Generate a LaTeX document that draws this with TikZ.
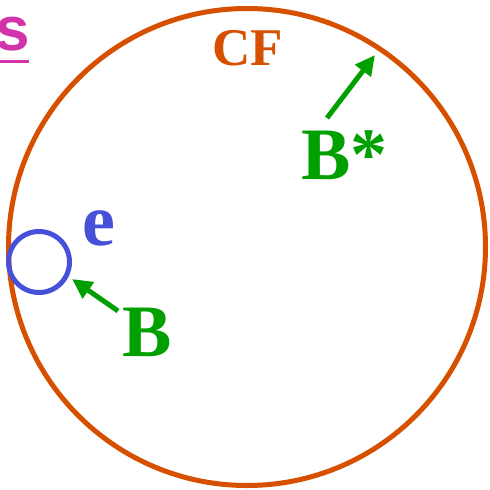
\documentclass[tikz,border=0pt]{standalone}
\usepackage{fontspec}
\setmainfont{Liberation Serif}[BoldFont={Liberation Serif Bold}]
\newfontfamily\sansbold{Liberation Sans}[BoldFont={Liberation Sans Bold}]
\usetikzlibrary{arrows.meta}
\definecolor{cfcol}{RGB}{214,80,0}
\definecolor{grn}{RGB}{0,160,0}
\definecolor{blu}{RGB}{70,80,216}
\definecolor{mag}{RGB}{210,50,170}
\tikzset{
  lbl/.style={inner sep=0pt, anchor=base west},
  garrow/.style={draw=grn, line width=5pt, -{Triangle[length=20pt,width=19pt]}},
}
\begin{document}
\begin{tikzpicture}[x=1pt,y=-1pt]
\useasboundingbox (0,0) rectangle (490,490);
\node[circle, draw=cfcol, line width=5pt, minimum size=477pt, inner sep=0pt] (cf) at (247,247) {};
\node[circle, draw=blu, line width=5pt, minimum size=61pt, inner sep=0pt] (ec) at (39,262) {};
\node[lbl, text=cfcol] (cft) at (212,65) {\fontsize{53}{53}\selectfont\bfseries CF};
\node[lbl, text=blu] (et) at (82,245) {\fontsize{74}{74}\selectfont\bfseries e};
\node[lbl, text=grn] (bt) at (122,356) {\fontsize{74}{74}\selectfont\bfseries B};
\node[lbl, text=grn] (bst) at (301,179) {\fontsize{74}{74}\selectfont\bfseries B*};
\node[lbl, text=mag] (st) at (-5,50) {\sansbold\bfseries\fontsize{62}{62}\selectfont s};
\draw[mag, line width=3pt] (0,61) -- (29,61);
\coordinate (btail) at (118,311);
\coordinate (bhead) at (72,279);
\coordinate (bstail) at (327,118);
\coordinate (bshead) at (375,55);
\draw[garrow] (btail) -- (bhead);
\draw[garrow] (bstail) -- (bshead);
\end{tikzpicture}
\end{document}
